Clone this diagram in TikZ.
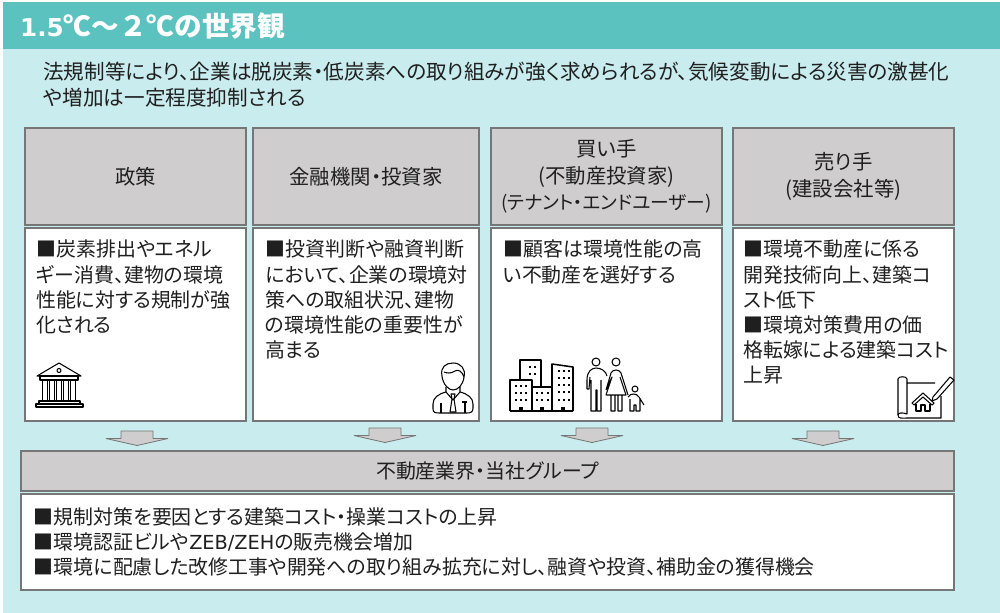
\documentclass[tikz,border=0pt]{standalone}
\usepackage{fontspec}
\setmainfont{Noto Sans CJK JP}[RawFeature=+palt]
\newfontfamily\fullfont{Noto Sans CJK JP}
\newfontfamily\latinfont{DejaVu Sans}
\usetikzlibrary{arrows.meta, positioning, calc}
\definecolor{bandcol}{HTML}{5BC2BF}
\definecolor{bgcol}{HTML}{C9ECEE}
\definecolor{graycol}{HTML}{CFCDCE}
\definecolor{edgecol}{HTML}{767676}
\definecolor{inkcol}{HTML}{1F1F1F}
\def\pw{0.03cm}
\def\sq{■\hspace{0.7pt}}
\tikzset{
	headbox/.style={draw=edgecol, fill=graycol, line width=1.7pt, inner sep=0pt, text=inkcol, align=center, font=\fontsize{17.4}{22.4}\selectfont},
	bodybox/.style={draw=edgecol, fill=white, line width=1.7pt, inner sep=0pt},
	bodytext/.style={anchor=north west, inner sep=0pt, text=inkcol, align=left, font=\fontsize{17}{21.5}\selectfont},
	icon/.style={draw=black, line width=0.9pt, fill=none, line join=round},
	dropshape/.pic={\draw[draw=edgecol, fill=graycol, line width=0.7pt, line join=bevel] (-16,0) -- (16,0) -- (16,7.5) -- (31,7.5) -- (0,14.5) -- (-31,7.5) -- (-16,7.5) -- cycle;}
}
\begin{document}
\begin{tikzpicture}[x=0.03cm, y=-0.03cm]
	\useasboundingbox (0,0) rectangle (1000,613);
	\fill[white] (0,0) rectangle (1000,613);
	\fill[bgcol] (3,49) rectangle (1000,613);
	\fill[bandcol] (3,2) rectangle (1000,49);
	\node[anchor=west, inner sep=0pt, text=white, font=\fontsize{23.6}{26}\selectfont\bfseries] (title) at (20,26) {{\latinfont\fontsize{21}{26}\selectfont 1.5}{\fullfont ℃～２℃の世界観}};
	\node[bodytext, font=\fontsize{17.6}{22.2}\selectfont] (intro) at (43,62) {法規制等により、企業は脱炭素・低炭素への取り組みが強く求められるが、気候変動による災害の激甚化\\や増加は一定程度抑制される};
	% header row
	\node[headbox, minimum width=221*\pw, minimum height=97*\pw] (seisaku) at (135.5,176.5) {政策};
	\node[headbox, minimum width=226*\pw, minimum height=97*\pw] (kinyu) at (366,176.5) {金融機関・投資家};
	\node[headbox, minimum width=231*\pw, minimum height=97*\pw] (kaite) at (606.5,176.5) {買い手\\(不動産投資家)\\{\fontsize{16}{22.4}\selectfont (テナント・エンドユーザー)}};
	\node[headbox, minimum width=221*\pw, minimum height=97*\pw] (urite) at (843.5,176.5) {売り手\\(建設会社等)};
	% body row
	\node[bodybox, minimum width=221*\pw, minimum height=193*\pw] (seisakubody) at (135.5,324.5) {};
	\node[bodybox, minimum width=226*\pw, minimum height=193*\pw] (kinyubody) at (366,324.5) {};
	\node[bodybox, minimum width=231*\pw, minimum height=193*\pw] (kaitebody) at (606.5,324.5) {};
	\node[bodybox, minimum width=221*\pw, minimum height=193*\pw] (uritebody) at (843.5,324.5) {};
	\node[bodytext] (seisakutext) at ($(seisakubody.north west)+(12,13)$) {\sq 炭素排出やエネル\\ギー消費、建物の環境\\性能に対する規制が強\\化される};
	\node[bodytext] (kinyutext) at ($(kinyubody.north west)+(13,13)$) {\sq 投資判断や融資判断\\において、企業の環境対\\策への取組状況、建物\\の環境性能の重要性が\\高まる};
	\node[bodytext] (kaitetext) at ($(kaitebody.north west)+(13,13)$) {\sq 顧客は環境性能の高\\い不動産を選好する};
	\node[bodytext] (uritetext) at ($(uritebody.north west)+(11,13)$) {\sq 環境不動産に係る\\開発技術向上、建築コ\\スト低下\\\sq 環境対策費用の価\\格転嫁による建築コスト\\上昇};
	% arrows
	\pic at (137,431) {dropshape};
	\pic at (385,428) {dropshape};
	\pic at (592,428) {dropshape};
	\pic at (823,431) {dropshape};
	% bottom
	\node[headbox, minimum width=933*\pw, minimum height=40*\pw, font=\fontsize{17}{22.4}\selectfont] (gyokai) at (487.5,470.5) {不動産業界・当社グループ};
	\node[bodybox, minimum width=933*\pw, minimum height=96*\pw] (gyokaibody) at (487.5,542) {};
	\node[bodytext] (gyokaitext) at ($(gyokaibody.north west)+(13,14)$) {\sq 規制対策を要因とする建築コスト・操業コストの上昇\\\sq 環境認証ビルや{\latinfont\fontsize{16.5}{21.5}\selectfont ZEB/ZEH}の販売機会増加\\\sq 環境に配慮した改修工事や開発への取り組み拡充に対し、融資や投資、補助金の獲得機会};
	% bank
	\draw[icon] (37,376) -- (59,363) -- (81,376) -- cycle;
	\draw[icon] (59,370.5) circle (2);
	\draw[icon] (40,376) rectangle (78,380);
	\foreach \cx in {45,52,59,66,73}
		\draw[icon] (\cx-2.5,380) rectangle (\cx+2.5,401);
	\draw[icon] (39,401) rectangle (80,404);
	\draw[icon] (36,404) rectangle (83,407);
	% person
	\draw[icon] (442,376) .. controls (440,367) and (446,363) .. (453,363) .. controls (461,363) and (466,369) .. (464,377) .. controls (462,371) and (458,369) .. (455,371) .. controls (451,374) and (446,373) .. (444,372);
	\draw[icon] (442,376) .. controls (443,385) and (449,390) .. (453,390) .. controls (458,390) and (463,385) .. (464,377);
	\draw[icon] (446,387) -- (446,392) .. controls (438,394) and (433,398) .. (433,404) -- (433,409) .. controls (433,413) and (436,413) .. (440,413) -- (467,413) .. controls (471,413) and (473,412) .. (473,408) -- (473,404) .. controls (473,398) and (468,394) .. (460,392) -- (460,387);
	\draw[icon] (446,392) -- (453,400) -- (460,392);
	\draw[icon] (451,394) -- (455,394) -- (454,399) -- (456,412) -- (450,412) -- (452,399) -- cycle;
	\draw[icon] (441,403) -- (441,413) (465,403) -- (465,413);
	\draw[icon] (462,402) -- (467,402);
	% buildings
	\draw[icon, line width=1.3pt] (520,380) -- (520,360) -- (541,360) -- (541,387);
	\draw[icon, line width=1.3pt] (510,411) -- (510,380) -- (532,380) -- (532,411);
	\draw[icon, line width=1.3pt] (532,387) -- (552,387) -- (552,411);
	\draw[icon, line width=1.3pt] (552,387) -- (552,364) -- (573,367) -- (573,411);
	\draw[icon, line width=1.6pt] (510,411) -- (573,411);
	\foreach \wx/\wy in {530/367,535/367,530/374,535/374,516/386,521/386,526/386,516/393,521/393,526/393,516/400,521/400,526/400,537/393,542/393,548/393,537/400,542/400,548/400,559/371,564/371,569/371,559/378,564/378,569/378,559/385,564/385,569/385,559/392,564/392,569/392,559/400,564/400,569/400}
		\fill (\wx-1,\wy-1) rectangle (\wx+1,\wy+1);
	\foreach \dx in {521,542,563}
		\fill (\dx-2,407) rectangle (\dx+2,411);
	% family
	\draw[icon] (596,362) circle (4);
	\draw[icon] (616,362) circle (4);
	\draw[icon] (635,389) circle (3);
	\draw[icon] (587,389) -- (587,380) .. controls (587,371) and (592,368) .. (596,368) .. controls (601,368) and (606,371) .. (607,376) (587,389) -- (589,389) -- (590,377) (591,380) -- (591,411) -- (596,411) -- (596,390) -- (597,390) -- (597,411) -- (601,411) -- (601,380);
	\draw[icon] (606,390) -- (611,373) .. controls (613,369) and (619,369) .. (621,373) -- (628,395) (606,390) -- (612,377) -- (606,395) -- (626,395) -- (620,377) (611,395) -- (611,411) -- (615,411) -- (615,395) (618,395) -- (618,411) -- (622,411) -- (622,395);
	\draw[icon] (628,397) .. controls (630,393) and (637,393) .. (639,397) -- (644,405) (630,399) -- (630,411) -- (634,411) -- (634,405) -- (636,405) -- (636,411) -- (640,411) -- (640,398);
	% blueprint
	\draw[icon] (907,383) -- (907,379) .. controls (907,376) and (898,376) .. (898,379) -- (898,415) .. controls (898,419) and (902,418) .. (907,418) -- (941,418) -- (941,396);
	\draw[icon] (907,383) -- (935,383) (907,383) -- (907,414) .. controls (902,412) and (898,413) .. (898,415);
	\draw[icon] (912,403) -- (923,393) -- (934,403) -- (932,405) -- (923,397) -- (914,405) -- cycle;
	\draw[icon] (916,404) -- (916,411) -- (921,411) -- (921,405) -- (925,405) -- (925,411) -- (930,411) -- (930,404);
	\draw[icon] (933,397) -- (950,377) -- (954,380) -- (937,399) -- (932,401) -- cycle;
\end{tikzpicture}
\end{document}
